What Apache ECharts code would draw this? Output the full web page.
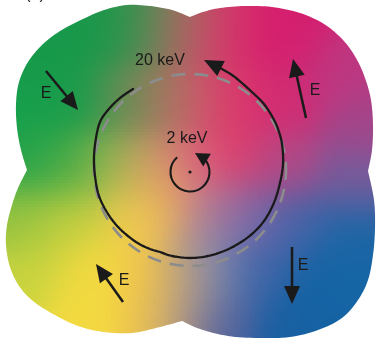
<!DOCTYPE html>
<html>
<head>
<meta charset="utf-8">
<title>Field map</title>
<script src="https://cdn.jsdelivr.net/npm/echarts@6/dist/echarts.min.js"></script>
<style>
html, body { margin: 0; padding: 0; background: #ffffff; }
#chart { width: 378px; height: 339px; }
</style>
</head>
<body>
<div id="chart"></div>
<script>
// Diagram coordinates: x to the right, y downward, one unit per pixel.
const X_MAX = 378;
const Y_MAX = 339;

// Boundary of the four-lobed map, one traced arc per lobe (notch to notch).
const lobeTopLeft = [[190,17],[172,10],[150,6],[127,5],[104,10],[83,19],[60,31],[42,45],[28,62],[19,82],[16,104],[17,128],[21,150],[27,170]];
const lobeBottomLeft = [[27,170],[18,188],[12,205],[7,225],[6,245],[10,267],[19,286],[33,301],[53,314],[78,326],[104,332],[132,333],[160,327],[182,321]];
const lobeBottomRight = [[182,321],[200,329],[228,336],[258,338],[290,337],[318,330],[342,318],[358,300],[368,280],[373,255],[375,228],[374,200],[368,171]];
const lobeTopRight = [[368,171],[372,150],[373,125],[371,100],[365,78],[356,58],[343,40],[324,24],[300,13],[272,7],[245,6],[220,8],[203,12],[190,17]];

// Colour anchors of the map: x, y, colour.
const fieldAnchors = [
  [40, 60, '#17984a'], [95, 25, '#17984a'], [125, 20, '#1c974a'], [148, 25, '#4f8c52'],
  [168, 25, '#8a7b5d'], [188, 28, '#b66663'], [208, 30, '#cf4569'], [235, 30, '#d8236c'],
  [290, 35, '#d41e6e'], [340, 75, '#be3680'],
  [25, 105, '#16a04c'], [75, 100, '#189c4a'], [125, 100, '#5e8e52'], [160, 100, '#a07c5e'],
  [195, 100, '#c8606a'], [232, 100, '#dc346c'], [285, 100, '#d22a72'], [360, 125, '#a2468a'],
  [25, 160, '#22a24a'], [65, 168, '#46aa46'], [110, 168, '#88b44c'], [150, 168, '#d09a68'],
  [190, 168, '#d96a7e'], [232, 160, '#de3c6c'], [285, 165, '#b24886'], [352, 180, '#745c9c'],
  [20, 220, '#94c240'], [70, 218, '#c8d03e'], [130, 212, '#f2d24a'], [160, 205, '#f0b85a'],
  [205, 215, '#b0809a'], [245, 215, '#8068a8'], [295, 222, '#4464a8'], [352, 235, '#1866a6'],
  [30, 272, '#cad43e'], [90, 278, '#f2da40'], [148, 278, '#f6ca46'], [185, 275, '#c4a07a'],
  [212, 270, '#7c88b6'], [252, 272, '#3a62a6'], [322, 282, '#1464a4'],
  [85, 322, '#f4da40'], [150, 322, '#f2c64a'], [184, 318, '#a88f92'], [220, 325, '#4a5e9e'],
  [290, 330, '#1660a2']
];

// Dashed reference circle: centre x, centre y, radius.
const refCircle = [190, 170, 96];

// 20 keV trajectory and the tip of its arrow.
const orbit20 = [[133,89],[120,98],[108,110],[100,122],[96,138],[94,157],[95,176],[99,196],[108,214],[120,229],[136,242],[150,249],[160,252],[172,256],[190,258],[208,256],[224,251],[238,244],[252,234],[264,221],[273,205],[279,187],[283,165],[282,144],[278,129],[273,118],[264,104],[253,93],[242,83],[232,75],[222,69]];
const orbit20Tip = [204, 60];

// 2 keV gyration: centre x, centre y, radius, start and end angle (degrees).
const orbit2 = [190, 172, 19.5, -131, -45];
const orbit2Tip = [195, 153];

// Field direction arrows: tail x, tail y, tip x, tip y.
const fieldArrows = [[46, 71, 78, 110], [306, 118, 293, 59], [292, 247, 292, 304], [123, 302, 96, 264]];
const fieldLabelPos = [[46, 94], [315, 91], [303, 266], [124, 281]];

// Energy labels: text, centre x, centre y.
const energyLabels = [['20 keV', 160, 61], ['2 keV', 187, 138.5]];

// Panel tag, mostly above the top edge.
const panelTag = ['(a)', 35, -5];

const FONT = '"Liberation Sans", Arial, Helvetica, sans-serif';
const INK = '#1a1a1a';
const STEP = 3;
const SIGMA = 26;

function spline(pts, n) {
  const out = [];
  for (let i = 0; i < pts.length - 1; i++) {
    const p0 = pts[Math.max(i - 1, 0)], p1 = pts[i], p2 = pts[i + 1], p3 = pts[Math.min(i + 2, pts.length - 1)];
    for (let k = 0; k < n; k++) {
      const t = k / n, t2 = t * t, t3 = t2 * t;
      const c = (j) => 0.5 * (2 * p1[j] + (-p0[j] + p2[j]) * t + (2 * p0[j] - 5 * p1[j] + 4 * p2[j] - p3[j]) * t2 + (-p0[j] + 3 * p1[j] - 3 * p2[j] + p3[j]) * t3);
      out.push([c(0), c(1)]);
    }
  }
  out.push(pts[pts.length - 1]);
  return out;
}

let outline = [];
[lobeTopLeft, lobeBottomLeft, lobeBottomRight, lobeTopRight].forEach(function (lobe) {
  const s = spline(lobe, 8);
  s.pop();
  outline = outline.concat(s);
});

const anchorRgb = fieldAnchors.map(function (a) {
  const n = parseInt(a[2].slice(1), 16);
  return [a[0], a[1], (n >> 16) & 255, (n >> 8) & 255, n & 255];
});

function fieldColor(x, y) {
  let r = 0, g = 0, b = 0, ws = 1e-12;
  for (let i = 0; i < anchorRgb.length; i++) {
    const a = anchorRgb[i];
    const dx = x - a[0], dy = y - a[1];
    const w = Math.exp(-(dx * dx + dy * dy) / (2 * SIGMA * SIGMA));
    r += w * a[2]; g += w * a[3]; b += w * a[4]; ws += w;
  }
  return 'rgb(' + Math.round(r / ws) + ',' + Math.round(g / ws) + ',' + Math.round(b / ws) + ')';
}

const cells = [];
for (let y = STEP / 2; y < Y_MAX + STEP; y += STEP) {
  for (let x = STEP / 2; x < X_MAX + STEP; x += STEP) {
    cells.push([x, y]);
  }
}

function signedArea(pts) {
  let s = 0;
  for (let i = 0; i < pts.length; i++) {
    const p = pts[i], q = pts[(i + 1) % pts.length];
    s += p[0] * q[1] - q[0] * p[1];
  }
  return s;
}

function arrowHead(tip, from, len, half) {
  const dx = tip[0] - from[0], dy = tip[1] - from[1];
  const d = Math.sqrt(dx * dx + dy * dy);
  const ux = dx / d, uy = dy / d;
  const bx = tip[0] - ux * len, by = tip[1] - uy * len;
  return {
    base: [bx, by],
    points: [[tip[0], tip[1]], [bx - uy * half, by + ux * half], [bx + uy * half, by - ux * half]]
  };
}

const chart = echarts.init(document.getElementById('chart'), null, { renderer: 'canvas' });

chart.setOption({
  animation: false,
  backgroundColor: '#ffffff',
  grid: { left: 0, right: 0, top: 0, bottom: 0 },
  xAxis: { type: 'value', min: 0, max: X_MAX, show: false },
  yAxis: { type: 'value', min: 0, max: Y_MAX, inverse: true, show: false },
  series: [
    {
      // colour field
      type: 'custom', z: 1, clip: false, silent: true,
      data: cells,
      renderItem: function (params, api) {
        const x = api.value(0), y = api.value(1);
        const p = api.coord([x, y]);
        const s = api.size([STEP, STEP]);
        return {
          type: 'rect',
          shape: { x: p[0] - s[0] / 2, y: p[1] - s[1] / 2, width: s[0] + 0.7, height: s[1] + 0.7 },
          style: { fill: fieldColor(x, y) }
        };
      }
    },
    {
      // white surround cut to the lobed outline
      type: 'custom', z: 2, clip: false, silent: true,
      data: [[0, 0]],
      renderItem: function (params, api) {
        const a = api.coord([0, 0]), b = api.coord([X_MAX, Y_MAX]);
        const x0 = Math.min(a[0], b[0]) - 10, x1 = Math.max(a[0], b[0]) + 10;
        const y0 = Math.min(a[1], b[1]) - 10, y1 = Math.max(a[1], b[1]) + 10;
        const rect = [[x0, y0], [x1, y0], [x1, y1], [x0, y1]];
        let ring = outline.map(function (p) { return api.coord(p); });
        if (signedArea(ring) * signedArea(rect) > 0) ring = ring.slice().reverse();
        let d = 'M' + rect.map(function (p) { return p[0] + ' ' + p[1]; }).join(' L') + ' Z ';
        d += 'M' + ring.map(function (p) { return p[0].toFixed(2) + ' ' + p[1].toFixed(2); }).join(' L') + ' Z';
        return { type: 'path', shape: { pathData: d }, style: { fill: '#ffffff' } };
      }
    },
    {
      // dashed reference circle
      type: 'custom', z: 3, clip: false, silent: true,
      data: [refCircle],
      renderItem: function (params, api) {
        const c = api.coord([api.value(0), api.value(1)]);
        const r = api.size([api.value(2), 0])[0];
        return {
          type: 'circle',
          shape: { cx: c[0], cy: c[1], r: r },
          style: { fill: 'none', stroke: '#8c8c8c', lineWidth: 2.6, lineDash: [14, 9], lineDashOffset: 4 }
        };
      }
    },
    {
      // 20 keV trajectory
      type: 'custom', z: 4, clip: false, silent: true,
      data: [[0]],
      renderItem: function (params, api) {
        const pts = spline(orbit20, 6).map(function (p) { return api.coord(p); });
        const tip = api.coord(orbit20Tip);
        const head = arrowHead(tip, pts[pts.length - 1], 19, 8.5);
        pts.push(head.base);
        return {
          type: 'group',
          children: [
            { type: 'polyline', shape: { points: pts }, style: { fill: 'none', stroke: INK, lineWidth: 2.3, lineJoin: 'round', lineCap: 'round' } },
            { type: 'polygon', shape: { points: head.points }, style: { fill: INK } }
          ]
        };
      }
    },
    {
      // 2 keV gyration
      type: 'custom', z: 4, clip: false, silent: true,
      data: [orbit2],
      renderItem: function (params, api) {
        const c = api.coord([api.value(0), api.value(1)]);
        const r = api.size([api.value(2), 0])[0];
        const a0 = api.value(3) * Math.PI / 180, a1 = api.value(4) * Math.PI / 180;
        const end = [c[0] + r * Math.cos(a1), c[1] + r * Math.sin(a1)];
        const head = arrowHead(api.coord(orbit2Tip), end, 14, 7.5);
        return {
          type: 'group',
          children: [
            { type: 'arc', shape: { cx: c[0], cy: c[1], r: r, startAngle: a0, endAngle: a1, clockwise: false }, style: { fill: 'none', stroke: INK, lineWidth: 2.1 } },
            { type: 'polygon', shape: { points: head.points }, style: { fill: INK } },
            { type: 'circle', shape: { cx: c[0], cy: c[1], r: 1.6 }, style: { fill: INK } }
          ]
        };
      }
    },
    {
      // field direction arrows
      type: 'custom', z: 5, clip: false, silent: true,
      data: fieldArrows,
      renderItem: function (params, api) {
        const tail = api.coord([api.value(0), api.value(1)]);
        const tip = api.coord([api.value(2), api.value(3)]);
        const head = arrowHead(tip, tail, 18, 8);
        const bx = head.base[0] + (tip[0] - head.base[0]) * 0.3;
        const by = head.base[1] + (tip[1] - head.base[1]) * 0.3;
        return {
          type: 'group',
          children: [
            { type: 'line', shape: { x1: tail[0], y1: tail[1], x2: bx, y2: by }, style: { stroke: INK, lineWidth: 2.5 } },
            { type: 'polygon', shape: { points: head.points }, style: { fill: INK } }
          ]
        };
      }
    },
    {
      // "E" labels beside the arrows
      type: 'custom', z: 6, clip: false, silent: true,
      data: fieldLabelPos,
      renderItem: function (params, api) {
        const p = api.coord([api.value(0), api.value(1)]);
        return {
          type: 'text', x: p[0], y: p[1],
          style: { text: 'E', fill: INK, font: '16px ' + FONT, align: 'center', verticalAlign: 'middle' }
        };
      }
    },
    {
      // energy labels
      type: 'custom', z: 6, clip: false, silent: true,
      data: energyLabels.map(function (l) { return [l[1], l[2]]; }),
      renderItem: function (params, api) {
        const p = api.coord([api.value(0), api.value(1)]);
        return {
          type: 'text', x: p[0], y: p[1],
          style: { text: energyLabels[params.dataIndex][0], fill: INK, font: '16px ' + FONT, align: 'center', verticalAlign: 'middle' }
        };
      }
    },
    {
      // panel tag
      type: 'custom', z: 6, clip: false, silent: true,
      data: [[panelTag[1], panelTag[2]]],
      renderItem: function (params, api) {
        const p = api.coord([api.value(0), api.value(1)]);
        return {
          type: 'text', x: p[0], y: p[1],
          style: { text: panelTag[0], fill: INK, font: '16px ' + FONT, align: 'center', verticalAlign: 'middle' }
        };
      }
    }
  ]
});
</script>
</body>
</html>
